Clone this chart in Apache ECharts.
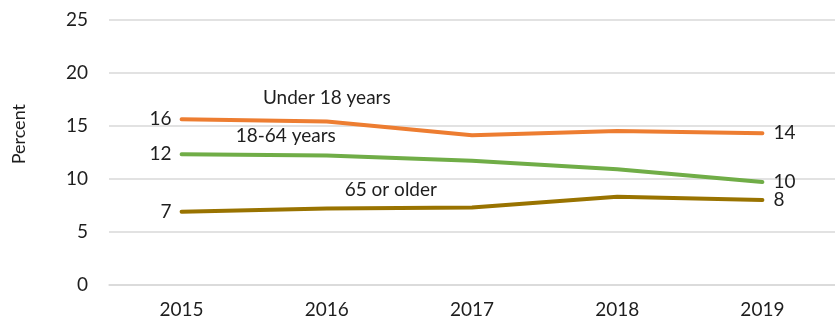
<!DOCTYPE html>
<html><head><meta charset="utf-8">
<script src="https://cdn.jsdelivr.net/npm/echarts@6/dist/echarts.min.js"></script>
<style>html,body{margin:0;padding:0;background:#fff}#c{width:835px;height:322px}</style>
</head><body><div id="c"></div>
<script>
const years = ['2015','2016','2017','2018','2019'];
const under18 = [15.6, 15.4, 14.1, 14.5, 14.3];
const adults = [12.3, 12.2, 11.7, 10.9, 9.7];
const seniors = [6.9, 7.2, 7.3, 8.3, 8.0];
const yTicks = [0, 5, 10, 15, 20, 25];
const names = ['Under 18 years', '18-64 years', '65 or older'];
const colors = ['#ED7D31', '#70AD47', '#997300'];
const nameOffsets = [[0, -24], [-41, -20], [64, -19]];
const font = 'Lato, "Open Sans", sans-serif';
const txt = '#1e1e1e';
const fs = 19;

function build(vals, idx) {
  return vals.map((v, i) => {
    const d = { value: v };
    if (i === 0) d.label = { show: true, position: 'left', distance: 10, formatter: String(Math.round(v)) };
    else if (i === vals.length - 1) d.label = { show: true, position: 'right', distance: 11, formatter: String(Math.round(v)) };
    else if (i === 1) d.label = { show: true, position: 'inside', offset: nameOffsets[idx], formatter: names[idx] };
    return d;
  });
}
const chart = echarts.init(document.getElementById('c'), null, { renderer: 'canvas' });
chart.setOption({
  animation: false,
  grid: { left: 109, width: 730, top: 19.5, bottom: 37 },
  textStyle: { fontFamily: font },
  graphic: [{
    type: 'text', left: 10, top: 104, rotation: Math.PI / 2,
    style: { text: 'Percent', font: '18px ' + font, fill: txt }
  }],
  xAxis: {
    type: 'category', data: years, boundaryGap: true,
    axisLine: { show: true, lineStyle: { color: '#d9d9d9', width: 1.5 } },
    axisTick: { show: false },
    axisLabel: { color: txt, fontSize: fs, margin: 15, fontFamily: font }
  },
  yAxis: {
    type: 'value', min: yTicks[0], max: yTicks[yTicks.length - 1], interval: 5,
    axisLine: { show: false }, axisTick: { show: false },
    splitLine: { lineStyle: { color: '#d9d9d9', width: 1.5 } },
    axisLabel: { color: txt, fontSize: fs, margin: 21, fontFamily: font }
  },
  series: [under18, adults, seniors].map((vals, k) => ({
    type: 'line', name: names[k], data: build(vals, k),
    symbol: 'circle', symbolSize: 0, showSymbol: true,
    lineStyle: { color: colors[k], width: 4, cap: 'round' },
    itemStyle: { color: colors[k] },
    label: { color: txt, fontSize: fs, fontFamily: font },
    z: 3 - k
  }))
});
</script></body></html>
